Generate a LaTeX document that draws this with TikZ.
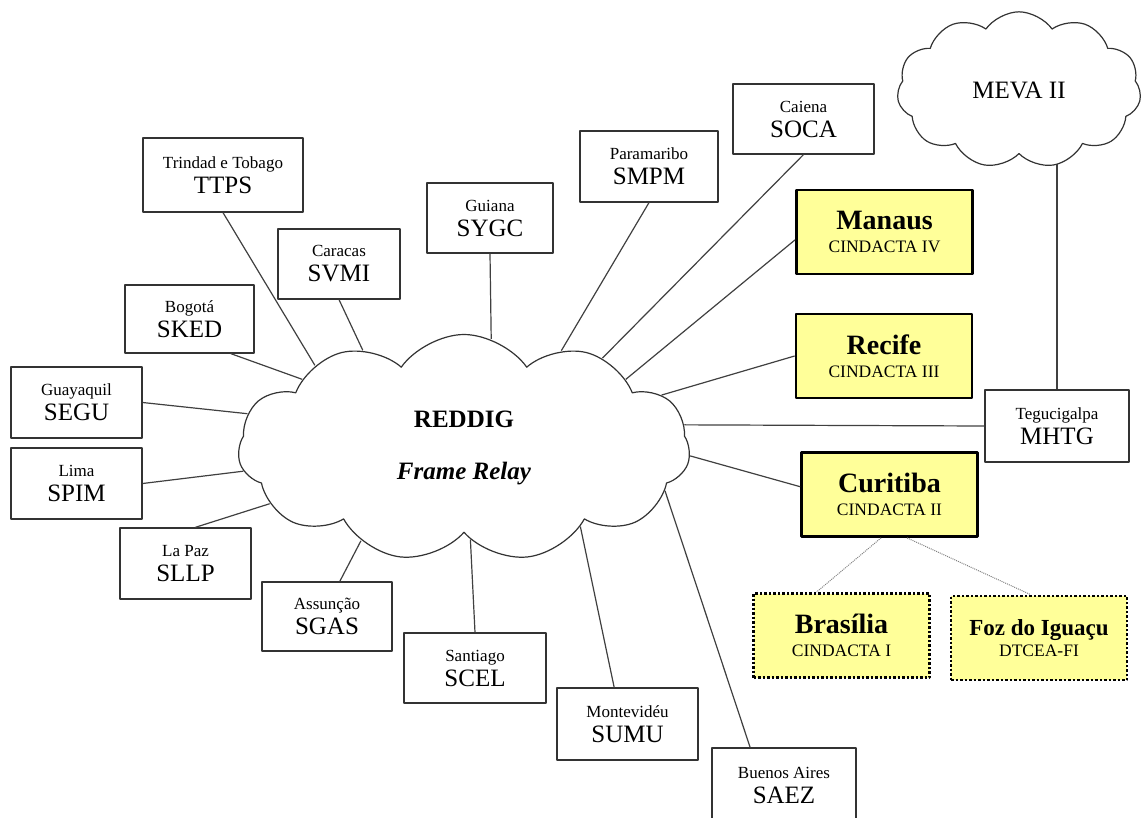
\documentclass[tikz,border=0pt]{standalone}
\usepackage{fontspec}
\setmainfont{Liberation Serif}
\usetikzlibrary{shapes.symbols,backgrounds}

\definecolor{cindacta}{RGB}{255,255,153}
\newcommand{\cityfont}{\fontsize{17}{25}\selectfont}
\newcommand{\codefont}{\fontsize{25}{25}\selectfont}
\newcommand{\headfont}{\bfseries\fontsize{28}{23}\selectfont}
\newcommand{\subfont}{\mdseries\fontsize{17.5}{23}\selectfont}

\begin{document}
\begin{tikzpicture}[x=1pt, y=-1pt, line join=round]
	\tikzset{
		station/.style={draw=black!80, line width=1.2pt, fill=white, align=center, inner sep=0pt, font=\cityfont},
		centre/.style={draw=black, line width=2.8pt, fill=cindacta, align=center, inner sep=0pt, minimum width=176pt, minimum height=84pt, font=\subfont},
		remote/.style={centre, dash pattern=on 2.5pt off 2pt},
		net/.style={cloud, cloud puffs=11, cloud puff arc=110, draw=black!80, line width=1.2pt, fill=white, align=center},
		link/.style={draw=black!75, line width=1.2pt},
		sublink/.style={draw=black!50, line width=1pt, densely dotted}
	}
	
	\path[use as bounding box, clip] (0,0) rectangle (1141,817);
	
	% clouds
	\node [net, minimum width=452pt, minimum height=227pt, font=\bfseries\fontsize{25}{30}\selectfont] (reddig) at (464,448) {REDDIG\\[22pt]\textit{Frame Relay}};
	\node [net, minimum width=244pt, minimum height=155pt, font=\fontsize{25}{30}\selectfont] (meva) at (1019,90) {MEVA II};
	
	% stations
	\foreach \n/\city/\code/\x/\y/\w/\h in {
		ttps/Trindad e Tobago/TTPS/223/175/160/74,
		svmi/Caracas/SVMI/339/264/122/70,
		sygc/Guiana/SYGC/490/218/126/70,
		smpm/Paramaribo/SMPM/649/166.5/138/71,
		soca/Caiena/SOCA/803.5/119/141/70,
		sked/Bogotá/SKED/189.5/319/129/68,
		segu/Guayaquil/SEGU/76.5/402.5/131/71,
		spim/Lima/SPIM/76.5/483.5/131/71,
		sllp/La Paz/SLLP/185.5/563.5/131/71,
		sgas/Assunção/SGAS/327/616.5/130/69,
		scel/Santiago/SCEL/475/668/142/70,
		sumu/Montevidéu/SUMU/627.5/724/141/72,
		saez/Buenos Aires/SAEZ/784/785/144/74,
		mhtg/Tegucigalpa/MHTG/1057/426/144/72}
	\node [station, minimum width=\w pt, minimum height=\h pt] (\n) at (\x,\y) {\city\\\codefont\code};
	
	% CINDACTA
	\node [centre] (manaus) at (884.5,232) {\headfont Manaus\\\subfont CINDACTA IV};
	\node [centre] (recife) at (884,356) {\headfont Recife\\\subfont CINDACTA III};
	\node [centre] (curitiba) at (889.5,494.5) {\headfont Curitiba\\\subfont CINDACTA II};
	\node [remote] (brasilia) at (841.5,635.5) {\headfont Brasília\\\subfont CINDACTA I};
	\node [remote, font=\fontsize{17.5}{21}\selectfont] (foz) at (1039,638) {\bfseries\fontsize{23}{21}\selectfont Foz do Iguaçu\\\mdseries\fontsize{17.5}{21}\selectfont DTCEA-FI};
	
	% links
	\foreach \n/\a/\b in {ttps/south/151, svmi/south/136, sygc/south/76, smpm/south/45,
		soca/south/33, manaus/185/23, recife/west/15, mhtg/west/6, curitiba/175/-2,
		sked/-40/157, segu/east/171, spim/east/186, sllp/75/196, sgas/70/222,
		scel/north/274, sumu/110/326, saez/132/348}
	\draw [link] (\n.\a) -- (reddig.\b);
	
	\draw [sublink] (curitiba.-101) -- (brasilia.120);
	\draw [sublink] (curitiba.-68) -- (foz.101);
	
	\begin{scope}[on background layer]
		\draw [link] (mhtg.north) -- (mhtg.north |- meva.center);
	\end{scope}
\end{tikzpicture}
\end{document}
